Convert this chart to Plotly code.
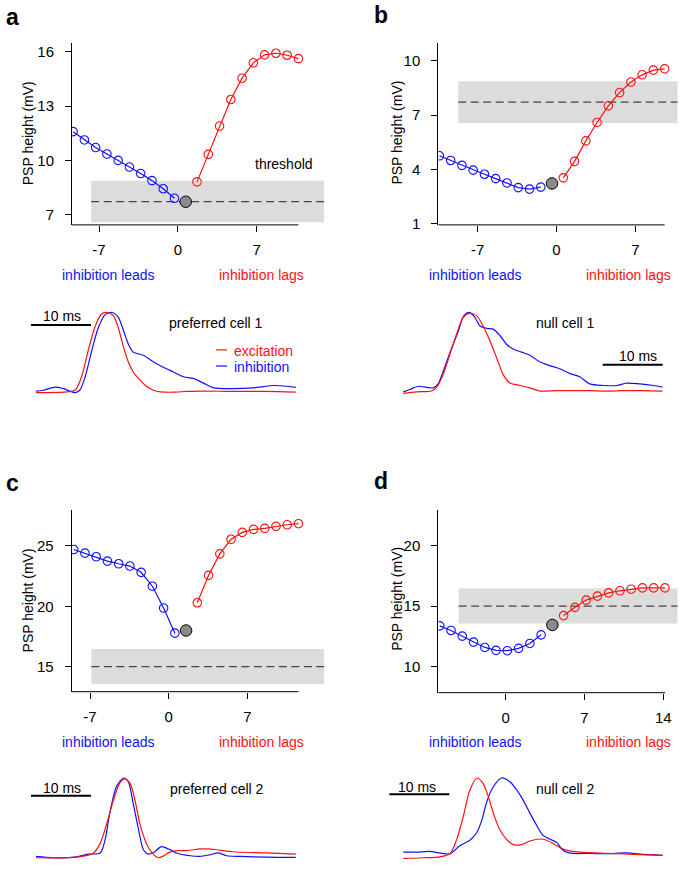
import plotly.graph_objects as go

W, H = 685, 872
FONT = "Liberation Sans, Arial, Helvetica, sans-serif"
BLUE = "#1010ff"
RED = "#ff1010"
BAND = "#dcdcdc"
DASH = "#454545"

# ---------------- scatter panels: PSP height vs. relative timing ----------------
a_lead_x = [-9.3, -8.3, -7.3, -6.3, -5.3, -4.3, -3.3, -2.3, -1.3, -0.3]
a_lead_y = [11.59, 11.13, 10.71, 10.35, 10.0, 9.63, 9.27, 8.88, 8.43, 7.9]
a_zero_x = [0.7]
a_zero_y = [7.71]
a_lag_x = [1.7, 2.7, 3.7, 4.7, 5.7, 6.7, 7.7, 8.7, 9.7, 10.7]
a_lag_y = [8.81, 10.33, 11.9, 13.37, 14.55, 15.4, 15.84, 15.93, 15.82, 15.63]

b_lead_x = [-10.4, -9.4, -8.4, -7.4, -6.4, -5.4, -4.4, -3.4, -2.4, -1.4]
b_lead_y = [4.76, 4.5, 4.23, 3.97, 3.74, 3.5, 3.26, 3.0, 2.92, 3.03]
b_zero_x = [-0.4]
b_zero_y = [3.23]
b_lag_x = [0.6, 1.6, 2.6, 3.6, 4.6, 5.6, 6.6, 7.6, 8.6, 9.6]
b_lag_y = [3.54, 4.45, 5.58, 6.6, 7.52, 8.25, 8.83, 9.23, 9.49, 9.56]

c_lead_x = [-8.45, -7.45, -6.45, -5.45, -4.45, -3.45, -2.45, -1.45, -0.45, 0.55]
c_lead_y = [24.7, 24.4, 24.1, 23.74, 23.52, 23.33, 22.81, 21.66, 19.85, 17.77]
c_zero_x = [1.55]
c_zero_y = [17.99]
c_lag_x = [2.55, 3.55, 4.55, 5.55, 6.55, 7.55, 8.55, 9.55, 10.55, 11.55]
c_lag_y = [20.29, 22.56, 24.34, 25.55, 26.12, 26.37, 26.45, 26.62, 26.75, 26.84]

d_lead_x = [-5.85, -4.85, -3.85, -2.85, -1.85, -0.85, 0.15, 1.15, 2.15, 3.15]
d_lead_y = [13.36, 12.98, 12.51, 12.02, 11.58, 11.34, 11.31, 11.5, 11.91, 12.62]
d_zero_x = [4.15]
d_zero_y = [13.44]
d_lag_x = [5.15, 6.15, 7.15, 8.15, 9.15, 10.15, 11.15, 12.15, 13.15, 14.15]
d_lag_y = [14.21, 14.89, 15.49, 15.82, 16.09, 16.26, 16.39, 16.5, 16.5, 16.5]

# threshold (mean) and half-width of grey band, per cell
thr_cell1 = 7.72
thr_cell1_sd = 1.15
thr_cell2 = 15.0
thr_cell2_sd = 1.45

a_yticks = [7, 10, 13, 16]
b_yticks = [1, 4, 7, 10]
c_yticks = [15, 20, 25]
d_yticks = [10, 15, 20]
abc_xticks = [-7, 0, 7]
d_xticks = [0, 7, 14]

# ---------------- normalized conductance traces (time in ms, amplitude 0..1) ----------------
pc1_exc_t = [0, 5.1, 6.5, 7.6, 8.7, 9.8, 10.9, 11.9, 12.9, 13.7, 14.6, 15.4, 16.2, 17.3, 18.4,
             19.6, 20.7, 22.9, 25.1, 27.3, 32.9, 38.4, 43.3]
pc1_exc_a = [-0.01, 0, 0.02, 0.19, 0.52, 0.81, 0.98, 1.0, 0.96, 0.81, 0.56, 0.375, 0.25, 0.15, 0.07,
             0.02, 0, -0.005, 0.005, 0.01, 0.005, 0.005, -0.005]
pc1_inh_t = [0, 1.2, 3.2, 4.6, 6.5, 7.3, 8.2, 9.3, 10.4, 11.5, 12.7, 13.7, 14.6, 15.4, 16.2, 17.9,
             19.6, 21.2, 22.9, 24.6, 26.2, 27.9, 29.6, 32.9, 36.2, 39.8, 43.3]
pc1_inh_a = [0.01, 0.02, 0.06, 0.04, -0.01, 0.02, 0.19, 0.52, 0.81, 0.97, 1.0, 0.94, 0.77, 0.6, 0.5, 0.46,
             0.375, 0.31, 0.25, 0.19, 0.17, 0.11, 0.05, 0.04, 0.05, 0.08, 0.055]

nc1_exc_t = [0, 2.2, 4.7, 5.6, 6.7, 7.8, 8.9, 10.0, 11.2, 12.2, 13.3, 14.4, 15.6, 16.7, 17.8, 19.4,
             21.1, 22.8, 25.6, 28.3, 31.1, 33.9, 36.7, 39.4, 43.2]
nc1_exc_a = [-0.02, 0, 0.01, 0.06, 0.23, 0.48, 0.73, 0.94, 0.99, 0.96, 0.83, 0.65, 0.42, 0.21, 0.11, 0.08,
             0.05, 0.01, 0.015, 0.015, 0.015, 0.01, 0.015, 0.015, 0.01]
nc1_inh_t = [0, 1.1, 2.5, 3.6, 5.0, 5.8, 6.9, 8.1, 9.2, 10.1, 11.0, 11.9, 12.8, 13.9, 15.0, 16.1, 17.2,
             18.3, 19.7, 21.1, 22.8, 24.4, 26.1, 27.8, 29.4, 31.1, 33.3, 35.6, 37.2, 39.4, 41.7, 43.2]
nc1_inh_a = [0, 0.03, 0.07, 0.06, 0.05, 0.1, 0.31, 0.56, 0.77, 0.96, 1.0, 0.94, 0.83, 0.8, 0.79, 0.71, 0.6,
             0.54, 0.5, 0.46, 0.375, 0.33, 0.29, 0.23, 0.19, 0.1, 0.08, 0.08, 0.11, 0.1, 0.08, 0.06]

pc2_exc_t = [0, 5.1, 7.9, 9.6, 10.7, 11.8, 12.9, 13.9, 14.8, 15.7, 16.5, 17.3, 18.4, 19.6, 20.4, 21.2,
             22.3, 23.4, 25.1, 27.3, 28.4, 30.1, 32.9, 38.4, 43.3]
pc2_exc_a = [0, 0, 0.02, 0.06, 0.18, 0.43, 0.72, 0.93, 0.99, 0.93, 0.72, 0.43, 0.18, 0.04, 0, 0.02,
             0.07, 0.09, 0.09, 0.11, 0.11, 0.1, 0.075, 0.06, 0.045]
pc2_inh_t = [0, 2.9, 6.2, 8.7, 10.7, 11.5, 12.3, 13.4, 14.6, 15.4, 16.2, 17.1, 17.9, 18.7, 19.6, 20.9,
             22.1, 23.4, 25.7, 27.3, 29.0, 30.4, 31.8, 34.0, 38.4, 43.3]
pc2_inh_a = [0.017, 0, 0.004, 0.045, 0.06, 0.22, 0.56, 0.89, 1.0, 0.95, 0.68, 0.35, 0.1, 0.045, 0.066, 0.14,
             0.11, 0.06, 0.025, 0.017, 0.037, 0.06, 0.025, 0.017, 0.008, 0.004]

nc2_exc_t = [0, 3.3, 6.1, 7.8, 8.9, 10.0, 11.1, 12.3, 13.3, 14.2, 15.0, 16.1, 17.2, 18.3, 19.7, 21.1,
             22.8, 23.9, 25.6, 27.2, 29.4, 33.9, 39.4, 43.2]
nc2_exc_a = [-0.008, 0, 0.012, 0.054, 0.23, 0.52, 0.85, 1.0, 0.93, 0.76, 0.56, 0.35, 0.23, 0.165, 0.165, 0.21,
             0.235, 0.22, 0.15, 0.095, 0.07, 0.054, 0.04, 0.03]
nc2_inh_t = [0, 2.2, 4.4, 6.1, 7.8, 9.4, 11.1, 12.2, 13.1, 13.9, 15.0, 16.4, 17.8, 18.9, 20.0, 21.1, 22.2,
             23.3, 24.4, 25.6, 26.4, 27.2, 28.3, 31.1, 33.9, 37.2, 39.4, 43.2]
nc2_inh_a = [0.07, 0.07, 0.08, 0.06, 0.05, 0.15, 0.22, 0.31, 0.475, 0.7, 0.89, 1.0, 0.95, 0.85, 0.72, 0.56, 0.41,
             0.28, 0.235, 0.19, 0.11, 0.07, 0.054, 0.054, 0.05, 0.06, 0.045, 0.03]


def px_x(p):
    return p / W


def px_y(p):
    return 1 - p / H


def dom_x(l, r):
    return [l / W, r / W]


def dom_y(top, bottom):
    return [1 - bottom / H, 1 - top / H]


fig = go.Figure()

scatter_panels = [
    dict(s="", lead=(a_lead_x, a_lead_y), zero=(a_zero_x, a_zero_y), lag=(a_lag_x, a_lag_y),
         thr=thr_cell1, sd=thr_cell1_sd, xd=(72.0, 324.3), yd=(43.3, 226.7),
         xr=[-9.40, 13.0], yr=[6.43, 16.50], yt=a_yticks, xt=abc_xticks, band=(-7.7, 13.0)),
    dict(s="2", lead=(b_lead_x, b_lead_y), zero=(b_zero_x, b_zero_y), lag=(b_lag_x, b_lag_y),
         thr=thr_cell1, sd=thr_cell1_sd, xd=(438.3, 677.7), yd=(43.3, 226.7),
         xr=[-10.50, 10.76], yr=[0.944, 10.99], yt=b_yticks, xt=abc_xticks, band=(-8.73, 10.76)),
    dict(s="3", lead=(c_lead_x, c_lead_y), zero=(c_zero_x, c_zero_y), lag=(c_lag_x, c_lag_y),
         thr=thr_cell2, sd=thr_cell2_sd, xd=(71.7, 324.3), yd=(514.3, 697.3),
         xr=[-8.63, 13.85], yr=[12.92, 27.96], yt=c_yticks, xt=abc_xticks, band=(-6.88, 13.85)),
    dict(s="4", lead=(d_lead_x, d_lead_y), zero=(d_zero_x, d_zero_y), lag=(d_lag_x, d_lag_y),
         thr=thr_cell2, sd=thr_cell2_sd, xd=(438.3, 677.7), yd=(514.3, 698.3),
         xr=[-5.98, 15.28], yr=[7.84, 22.92], yt=d_yticks, xt=d_xticks, band=(-4.17, 15.28)),
]

shapes = []
layout_axes = {}

for p in scatter_panels:
    s = p["s"]
    xa, ya = "x" + s, "y" + s
    shapes.append(dict(type="rect", xref=xa, yref=ya, x0=p["band"][0], x1=p["band"][1],
                       y0=p["thr"] - p["sd"], y1=p["thr"] + p["sd"], fillcolor=BAND,
                       line=dict(width=0), layer="below"))
    shapes.append(dict(type="line", xref=xa, yref=ya, x0=p["band"][0], x1=p["band"][1],
                       y0=p["thr"], y1=p["thr"], line=dict(color=DASH, width=1.3, dash="8px,4.5px"),
                       layer="below"))
    shapes.append(dict(type="line", xref=xa, yref=ya + " domain", x0=p["xr"][0], x1=p["lag"][0][-1],
                       y0=0, y1=0, line=dict(color="black", width=1)))
    for (xs, ys), col in ((p["lead"], BLUE), (p["lag"], RED)):
        fig.add_trace(go.Scatter(x=xs, y=ys, xaxis=xa, yaxis=ya, mode="lines+markers",
                                 line=dict(color=col, width=1.2),
                                 marker=dict(symbol="circle-open", size=8.5, color=col,
                                             line=dict(width=1.1, color=col)),
                                 showlegend=False, hoverinfo="skip"))
    fig.add_trace(go.Scatter(x=p["zero"][0], y=p["zero"][1], xaxis=xa, yaxis=ya, mode="markers",
                             marker=dict(symbol="circle", size=11.5, color="#8a8a8a",
                                         line=dict(width=1, color="black")),
                             showlegend=False, hoverinfo="skip"))
    layout_axes["xaxis" + s] = dict(domain=dom_x(*p["xd"]), range=p["xr"], anchor=ya,
                                    showline=False, showgrid=False, zeroline=False,
                                    ticks="outside", ticklen=6, tickwidth=1, tickcolor="black",
                                    tickvals=p["xt"], ticktext=[str(v) for v in p["xt"]],
                                    tickfont=dict(size=15, color="black", family=FONT),
                                    ticklabelstandoff=5)
    layout_axes["yaxis" + s] = dict(domain=dom_y(*p["yd"]), range=p["yr"], anchor=xa,
                                    showline=True, linecolor="black", linewidth=1,
                                    showgrid=False, zeroline=False,
                                    ticks="outside", ticklen=6, tickwidth=1, tickcolor="black",
                                    tickvals=p["yt"], ticktext=[str(v) for v in p["yt"]],
                                    tickfont=dict(size=15, color="black", family=FONT),
                                    ticklabelstandoff=8)

trace_panels = [
    dict(n="5", exc=(pc1_exc_t, pc1_exc_a), inh=(pc1_inh_t, pc1_inh_a), xd=(0, 340), yd=(300, 420),
         xr=[-6.0, 50.67], yr=[-0.3125, 1.1875]),
    dict(n="6", exc=(nc1_exc_t, nc1_exc_a), inh=(nc1_inh_t, nc1_inh_a), xd=(340, 685), yd=(300, 420),
         xr=[-10.55, 46.95], yr=[-0.3125, 1.1875]),
    dict(n="7", exc=(pc2_exc_t, pc2_exc_a), inh=(pc2_inh_t, pc2_inh_a), xd=(0, 340), yd=(770, 872),
         xr=[-6.0, 50.67], yr=[-0.091, 1.178]),
    dict(n="8", exc=(nc2_exc_t, nc2_exc_a), inh=(nc2_inh_t, nc2_inh_a), xd=(340, 685), yd=(770, 872),
         xr=[-10.55, 46.95], yr=[-0.091, 1.178]),
]
for p in trace_panels:
    n = p["n"]
    for (ts, vs), col in ((p["inh"], BLUE), (p["exc"], RED)):
        fig.add_trace(go.Scatter(x=ts, y=vs, xaxis="x" + n, yaxis="y" + n, mode="lines",
                                 line=dict(color=col, width=1.2, shape="spline", smoothing=0.8),
                                 showlegend=False, hoverinfo="skip", cliponaxis=False))
    layout_axes["xaxis" + n] = dict(domain=dom_x(*p["xd"]), range=p["xr"], visible=False, anchor="y" + n)
    layout_axes["yaxis" + n] = dict(domain=dom_y(*p["yd"]), range=p["yr"], visible=False, anchor="x" + n)


def hline(x0, x1, y, color="black", width=2):
    shapes.append(dict(type="line", xref="paper", yref="paper", x0=px_x(x0), x1=px_x(x1),
                       y0=px_y(y), y1=px_y(y), line=dict(color=color, width=width)))


hline(31, 91, 327.7)
hline(602.7, 662.7, 367.7)
hline(31, 91, 802.3)
hline(389.3, 449.3, 800.7)
hline(216, 227, 352.7, RED, 1.2)
hline(216, 227, 369.0, BLUE, 1.2)

annotations = []


def txt(s, x, y, color="black", size=14, bold=False, angle=0, xanchor="center"):
    annotations.append(dict(text=("<b>%s</b>" % s) if bold else s, x=px_x(x), y=px_y(y),
                            xref="paper", yref="paper", xanchor=xanchor, yanchor="middle",
                            showarrow=False, textangle=angle,
                            font=dict(size=size, color=color, family=FONT)))


for lab, x, y in (("a", 12, 17), ("b", 381, 15), ("c", 12, 487), ("d", 381, 485)):
    txt(lab, x, y, size=23, bold=True)

for x, y in ((28.3, 134), (396.7, 134), (28.3, 605), (396.7, 604)):
    txt("PSP height (mV)", x, y, angle=-90)

for y, xl, xr in ((277, 108.5, 261), (277, 475, 628), (748, 108.5, 261), (748, 475, 628)):
    txt("inhibition leads", xl, y, color=BLUE)
    txt("inhibition lags", xr, y, color=RED)

txt("threshold", 284, 165)
txt("10 ms", 62, 319)
txt("preferred cell 1", 216, 326)
txt("excitation", 231.7, 353.5, color=RED, xanchor="left")
txt("inhibition", 231.7, 370.0, color=BLUE, xanchor="left")
txt("null cell 1", 565, 326)
txt("10 ms", 637.7, 358.5)
txt("10 ms", 62, 794)
txt("preferred cell 2", 216.7, 795.5)
txt("10 ms", 416.7, 793)
txt("null cell 2", 565.3, 795)

fig.update_layout(width=W, height=H, margin=dict(l=0, r=0, t=0, b=0),
                  paper_bgcolor="white", plot_bgcolor="white",
                  font=dict(family=FONT, size=14, color="black"),
                  shapes=shapes, annotations=annotations, showlegend=False, **layout_axes)

fig.write_html("out.html", config={"displayModeBar": False},
               post_script="document.body.style.margin='0px';document.body.style.overflow='hidden';")
